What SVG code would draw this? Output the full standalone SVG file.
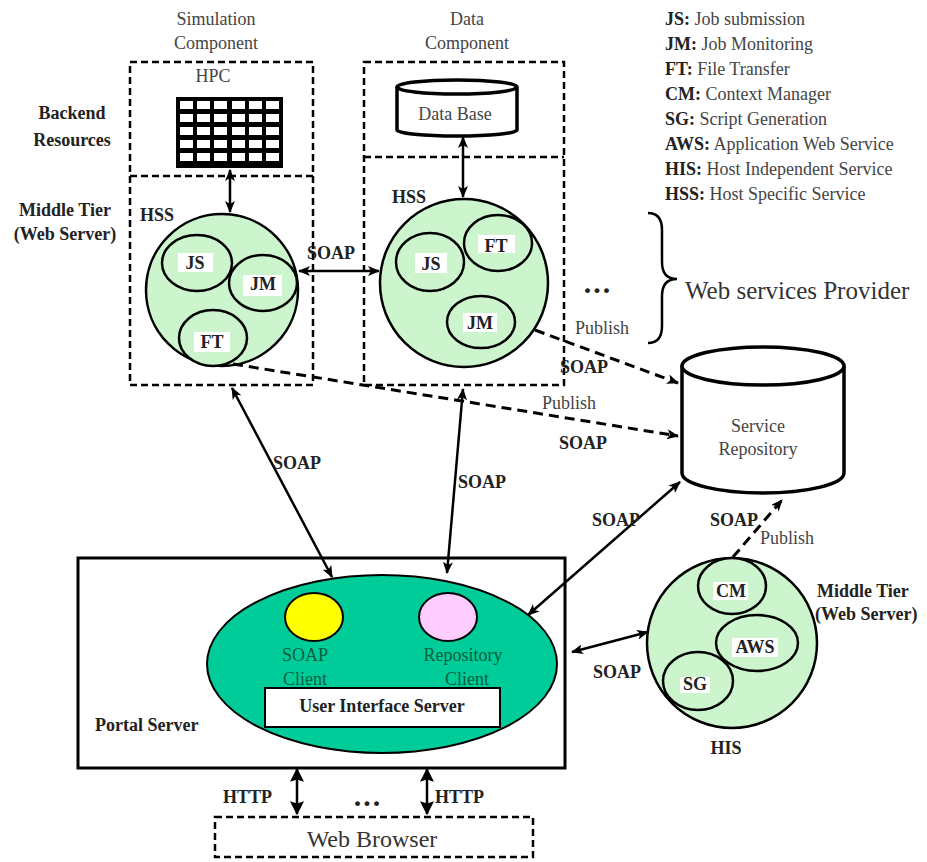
<svg xmlns="http://www.w3.org/2000/svg" width="927" height="862" viewBox="0 0 927 862">
<defs>
<style>
text{font-family:"Liberation Serif","Times New Roman",serif;font-size:18px;fill:#444}
.b{font-weight:bold;fill:#222}
.m{text-anchor:middle}
.g{fill:#0b5e3e}
.dots{font-size:30px;font-weight:bold;fill:#222;letter-spacing:2px}
.dash{fill:none;stroke:#000;stroke-width:2.5;stroke-dasharray:7,4}
.hss{fill:#cdf5cd;stroke:#000;stroke-width:2.5}
.sub{fill:#cdf5cd;stroke:#000;stroke-width:2.5}
.lab{fill:#fff;stroke:none}
.con{fill:none;stroke:#000;stroke-width:2.5}
.dcon{fill:none;stroke:#000;stroke-width:3;stroke-dasharray:10,6}
.cyl{fill:#fff;stroke:#000;stroke-width:3.5}
</style>
<marker id="ah" viewBox="0 0 12 10" refX="11" refY="5" markerWidth="12" markerHeight="10" markerUnits="userSpaceOnUse" orient="auto-start-reverse">
<path d="M0,0 L12,5 L0,10 L3,5 z" fill="#000"/>
</marker>
<marker id="ahb" viewBox="0 0 12 12" refX="11" refY="6" markerWidth="14" markerHeight="14" markerUnits="userSpaceOnUse" orient="auto-start-reverse">
<path d="M0,0 L12,6 L0,12 L2,6 z" fill="#000"/>
</marker>
</defs>
<rect width="927" height="862" fill="#fff"/>

<g id="labels-left">
<text class="b m" x="72" y="119">Backend</text>
<text class="b m" x="72" y="146">Resources</text>
<text class="b m" x="65" y="216">Middle Tier</text>
<text class="b m" x="65" y="240">(Web Server)</text>
</g>

<g id="legend">
<text x="665" y="25"><tspan class="b">JS:</tspan> Job submission</text>
<text x="665" y="50"><tspan class="b">JM:</tspan> Job Monitoring</text>
<text x="665" y="75"><tspan class="b">FT:</tspan> File Transfer</text>
<text x="665" y="100"><tspan class="b">CM:</tspan> Context Manager</text>
<text x="665" y="125"><tspan class="b">SG:</tspan> Script Generation</text>
<text x="665" y="150"><tspan class="b">AWS:</tspan> Application Web Service</text>
<text x="665" y="175"><tspan class="b">HIS:</tspan> Host Independent Service</text>
<text x="665" y="200"><tspan class="b">HSS:</tspan> Host Specific Service</text>
</g>

<g id="simulation-component">
<text class="m" x="216" y="25">Simulation</text>
<text class="m" x="216" y="49">Component</text>
<rect class="dash" x="130" y="62" width="183" height="323"/>
<line class="dash" x1="130" y1="176" x2="313" y2="176"/>
<text class="m" x="213" y="82">HPC</text>
</g>

<g id="hpc">
<rect x="176" y="97" width="107" height="71" fill="#000"/>
<g fill="#fff">
<rect x="180" y="101" width="13" height="8"/><rect x="197" y="101" width="13" height="8"/><rect x="214" y="101" width="13" height="8"/><rect x="232" y="101" width="13" height="8"/><rect x="249" y="101" width="13" height="8"/><rect x="266" y="101" width="13" height="8"/>
<rect x="180" y="114" width="13" height="8"/><rect x="197" y="114" width="13" height="8"/><rect x="214" y="114" width="13" height="8"/><rect x="232" y="114" width="13" height="8"/><rect x="249" y="114" width="13" height="8"/><rect x="266" y="114" width="13" height="8"/>
<rect x="180" y="127" width="13" height="8"/><rect x="197" y="127" width="13" height="8"/><rect x="214" y="127" width="13" height="8"/><rect x="232" y="127" width="13" height="8"/><rect x="249" y="127" width="13" height="8"/><rect x="266" y="127" width="13" height="8"/>
<rect x="180" y="140" width="13" height="8"/><rect x="197" y="140" width="13" height="8"/><rect x="214" y="140" width="13" height="8"/><rect x="232" y="140" width="13" height="8"/><rect x="249" y="140" width="13" height="8"/><rect x="266" y="140" width="13" height="8"/>
<rect x="180" y="153" width="13" height="8"/><rect x="197" y="153" width="13" height="8"/><rect x="214" y="153" width="13" height="8"/><rect x="232" y="153" width="13" height="8"/><rect x="249" y="153" width="13" height="8"/><rect x="266" y="153" width="13" height="8"/>
</g>
</g>

<g id="hss-left">
<text class="b" x="140" y="221">HSS</text>
<circle class="hss" cx="222" cy="290" r="76"/>
<ellipse class="sub" cx="197" cy="263" rx="35" ry="28"/>
<ellipse class="sub" cx="263" cy="283" rx="34" ry="28"/>
<ellipse class="sub" cx="213" cy="338" rx="34" ry="28"/>
<rect class="lab" x="178" y="253" width="35" height="19"/>
<rect class="lab" x="243" y="275" width="39" height="21"/>
<rect class="lab" x="194" y="332" width="36" height="20"/>
<text class="b m" x="195" y="269">JS</text>
<text class="b m" x="263" y="290">JM</text>
<text class="b m" x="212" y="348">FT</text>
</g>

<g id="data-component">
<text class="m" x="467" y="25">Data</text>
<text class="m" x="467" y="49">Component</text>
<rect class="dash" x="364" y="62" width="200" height="323"/>
<line class="dash" x1="364" y1="157" x2="564" y2="157"/>
</g>

<g id="database">
<path class="cyl" d="M397,87 L397,130 A60,6 0 0 0 517,130 L517,87"/>
<ellipse class="cyl" cx="457" cy="87" rx="60" ry="7"/>
<text class="m" x="455" y="120">Data Base</text>
</g>

<g id="hss-right">
<text class="b" x="392" y="203">HSS</text>
<circle class="hss" cx="464" cy="283" r="84"/>
<ellipse class="sub" cx="430" cy="262" rx="34" ry="29"/>
<ellipse class="sub" cx="498" cy="243" rx="34" ry="28"/>
<ellipse class="sub" cx="481" cy="322" rx="34" ry="26"/>
<rect class="lab" x="415" y="253" width="32" height="20"/>
<rect class="lab" x="478" y="235" width="37" height="18"/>
<rect class="lab" x="463" y="313" width="34" height="19"/>
<text class="b m" x="431" y="270">JS</text>
<text class="b m" x="496" y="252">FT</text>
<text class="b m" x="480" y="329">JM</text>
</g>

<g id="provider">
<text class="dots m" x="598" y="293">...</text>
<path d="M648,213 Q662,213 662,230 L662,262 Q662,279 677,279 Q662,279 662,296 L662,326 Q662,343 648,343" fill="none" stroke="#000" stroke-width="2.5"/>
<text x="685" y="299" style="font-size:25px;fill:#333">Web services Provider</text>
</g>

<g id="service-repository">
<path class="cyl" d="M682,366 L682,473 A81,20 0 0 0 844,473 L844,366"/>
<ellipse class="cyl" cx="763" cy="366" rx="81" ry="19"/>
<text class="m" x="758" y="432">Service</text>
<text class="m" x="758" y="455">Repository</text>
</g>

<g id="portal-server">
<rect x="78" y="558" width="487" height="210" fill="#fff" stroke="#000" stroke-width="3"/>
<text class="b" x="95" y="731">Portal Server</text>
<ellipse cx="382" cy="664" rx="175" ry="89" fill="#00cc99" stroke="#000" stroke-width="2"/>
<ellipse cx="314" cy="617" rx="29" ry="24" fill="#ffff00" stroke="#000" stroke-width="2"/>
<ellipse cx="448" cy="617" rx="29" ry="24" fill="#ffccff" stroke="#000" stroke-width="2"/>
<text class="m g" x="305" y="661">SOAP</text>
<text class="m g" x="305" y="685">Client</text>
<text class="m g" x="463" y="661">Repository</text>
<text class="m g" x="467" y="685">Client</text>
<rect x="265" y="688" width="235" height="39" fill="#fff" stroke="#000" stroke-width="2"/>
<text class="b m" x="382" y="712">User Interface Server</text>
</g>

<g id="his">
<circle class="hss" cx="732" cy="643" r="85"/>
<ellipse class="sub" cx="732" cy="586" rx="34" ry="28"/>
<ellipse class="sub" cx="757" cy="643" rx="41" ry="28"/>
<ellipse class="sub" cx="698" cy="681" rx="35" ry="29"/>
<rect class="lab" x="713" y="582" width="35" height="18"/>
<rect class="lab" x="732" y="638" width="46" height="19"/>
<rect class="lab" x="680" y="677" width="30" height="16"/>
<text class="b m" x="731" y="597">CM</text>
<text class="b m" x="755" y="653">AWS</text>
<text class="b m" x="695" y="690">SG</text>
<text class="b m" x="726" y="754">HIS</text>
<text class="b" x="817" y="597">Middle Tier</text>
<text class="b" x="815" y="620">(Web Server)</text>
</g>

<g id="web-browser">
<rect class="dash" x="215" y="817" width="318" height="40"/>
<text class="m" x="372" y="847" style="font-size:24px;fill:#333">Web Browser</text>
</g>

<g id="connectors">
<line class="con" x1="230" y1="170" x2="230" y2="212" marker-start="url(#ah)" marker-end="url(#ah)"/>
<line class="con" x1="463" y1="137" x2="463" y2="197" marker-start="url(#ah)" marker-end="url(#ah)"/>
<line class="con" x1="299" y1="271" x2="379" y2="271" stroke-width="3" marker-start="url(#ah)" marker-end="url(#ah)"/>
<line class="con" x1="232" y1="388" x2="332" y2="577" marker-start="url(#ah)" marker-end="url(#ah)"/>
<line class="con" x1="463" y1="389" x2="447" y2="573" marker-start="url(#ah)" marker-end="url(#ah)"/>
<line class="con" x1="680" y1="482" x2="528" y2="615" marker-start="url(#ah)" marker-end="url(#ah)"/>
<line class="con" x1="572" y1="652" x2="648" y2="632" marker-start="url(#ah)" marker-end="url(#ah)"/>
<line class="dcon" x1="535" y1="330" x2="678" y2="383" marker-end="url(#ah)"/>
<line class="dcon" x1="233" y1="364" x2="678" y2="436" marker-end="url(#ah)"/>
<line class="dcon" x1="733" y1="557" x2="782" y2="500" marker-end="url(#ah)"/>
<line class="con" x1="297" y1="769" x2="297" y2="814" stroke-width="3.5" marker-start="url(#ahb)" marker-end="url(#ahb)"/>
<line class="con" x1="427" y1="769" x2="427" y2="814" stroke-width="3.5" marker-start="url(#ahb)" marker-end="url(#ahb)"/>
<text class="b" x="307" y="259">SOAP</text>
<text x="575" y="334">Publish</text>
<text class="b" x="560" y="373">SOAP</text>
<text x="542" y="409">Publish</text>
<text class="b" x="559" y="449">SOAP</text>
<text class="b" x="273" y="469">SOAP</text>
<text class="b" x="458" y="488">SOAP</text>
<text class="b" x="592" y="526">SOAP</text>
<text class="b" x="710" y="526">SOAP</text>
<text x="760" y="544">Publish</text>
<text class="b" x="593" y="678">SOAP</text>
<text class="b" x="223" y="803">HTTP</text>
<text class="b" x="435" y="803">HTTP</text>
<text class="dots m" x="368" y="806">...</text>
</g>
</svg>
